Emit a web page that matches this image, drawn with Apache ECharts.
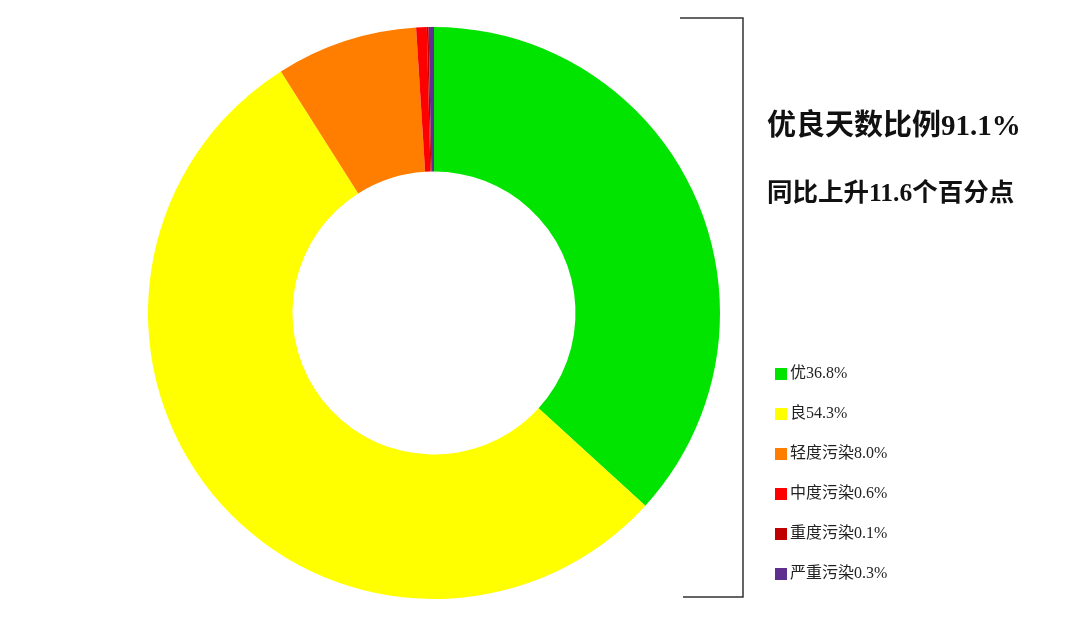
<!DOCTYPE html>
<html>
<head>
<meta charset="utf-8">
<script src="https://cdn.jsdelivr.net/npm/echarts@6/dist/echarts.min.js"></script>
<style>html,body{margin:0;padding:0;background:#fff}</style>
</head>
<body>
<div id="chart" style="width:1080px;height:617px"></div>
<script type="text/javascript">
// 空气质量等级占比
var categories = ['优', '良', '轻度污染', '中度污染', '重度污染', '严重污染'];
var values = [36.8, 54.3, 8.0, 0.6, 0.1, 0.3];
var colors = ['#00e400', '#ffff00', '#ff7e00', '#ff0000', '#c00000', '#5e2f8e'];
var headline = '优良天数比例91.1%';
var subline = '同比上升11.6个百分点';

var font = '"Liberation Serif", "Noto Sans CJK SC", serif';
var chart = echarts.init(document.getElementById('chart'));

var pieData = categories.map(function (name, i) {
    return { name: name, value: values[i], itemStyle: { color: colors[i] } };
});

chart.setOption({
    backgroundColor: '#fff',
    animation: false,
    legend: {
        orient: 'vertical',
        left: 770,
        top: 361,
        itemWidth: 12,
        itemHeight: 12,
        itemGap: 24,
        icon: 'rect',
        textStyle: { fontFamily: font, fontSize: 16, color: '#222', padding: [0, 0, 0, -2] },
        formatter: function (name) {
            var i = categories.indexOf(name);
            return name + values[i].toFixed(1) + '%';
        },
        data: categories
    },
    graphic: [
        {
            type: 'polyline',
            shape: { points: [[680, 18], [743, 18], [743, 597], [683, 597]] },
            style: { stroke: '#333', lineWidth: 1.5, fill: null }
        },
        {
            type: 'text', left: 767, top: 113,
            style: { text: headline, font: 'bold 29px ' + font, fill: '#111' }
        },
        {
            type: 'text', left: 767, top: 182,
            style: { text: subline, font: 'bold 25.5px ' + font, fill: '#111' }
        }
    ],
    series: [{
        type: 'pie',
        center: [434, 313],
        radius: [141.5, 286],
        startAngle: 90,
        clockwise: true,
        label: { show: false },
        labelLine: { show: false },
        itemStyle: { borderWidth: 0 },
        data: pieData
    }]
});
</script>
</body>
</html>
